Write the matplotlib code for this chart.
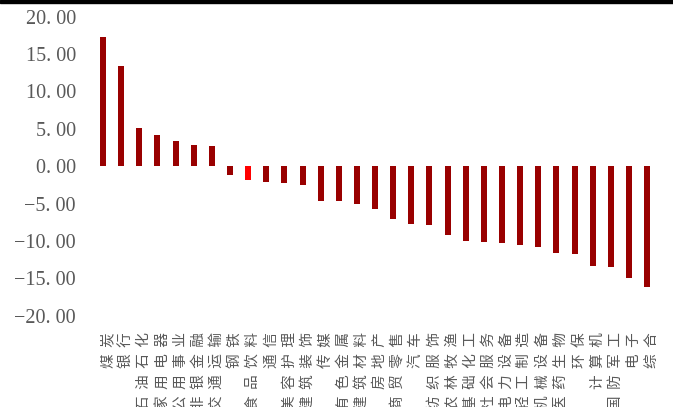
from matplotlib import pyplot as plt
from matplotlib.patches import Rectangle
import numpy as np

# Industry names (Shenwan level-1) and returns, %
industries = ['煤炭', '银行', '石油石化', '家用电器', '公用事业', '非银金融', '交通运输',
              '钢铁', '食品饮料', '通信', '美容护理', '建筑装饰', '传媒', '有色金属',
              '建筑材料', '房地产', '商贸零售', '汽车', '纺织服饰', '农林牧渔', '基础化工',
              '社会服务', '电力设备', '轻工制造', '机械设备', '医药生物', '环保', '计算机',
              '国防军工', '电子', '综合']
returns = [17.25, 13.35, 5.10, 4.18, 3.33, 2.84, 2.70,
           -1.14, -1.82, -2.11, -2.22, -2.47, -4.66, -4.68,
           -5.00, -5.68, -7.02, -7.69, -7.83, -9.17, -9.97,
           -10.10, -10.24, -10.50, -10.78, -11.58, -11.71, -13.32,
           -13.45, -14.97, -16.13]
highlight = '食品饮料'
yticks = [20, 15, 10, 5, 0, -5, -10, -15, -20]

dark_red = '#990000'
bright_red = '#ff0000'
gray = '#595959'

fig = plt.figure(figsize=(6.73, 4.07), dpi=100)
ax = fig.add_axes([0.1397, 0.2243, 0.8352, 0.7347])

x = np.arange(len(industries))
colors = [bright_red if n == highlight else dark_red for n in industries]
ax.bar(x, returns, width=0.33, color=colors)

ax.set_xlim(-0.5, len(industries) - 0.5)
ax.set_ylim(-20, 20)

# y tick labels look like "20. 00" in the original
ax.set_yticks(yticks)
ax.set_yticklabels([('%.2f' % v).replace('.', '. ').replace('-', '\u2212') for v in yticks],
                   fontfamily='Liberation Serif', fontsize=14.5, color=gray)

# stretched vertical labels, sitting a little right of the bars like the original
ax.set_xticks(x + 0.28)
ax.set_xticklabels(['  '.join(n) for n in industries], rotation=90,
                   fontfamily=['Noto Sans CJK SC', 'DejaVu Sans'], fontsize=10.5, color=gray)

ax.tick_params(axis='y', length=0, pad=13)
ax.tick_params(axis='x', length=0, pad=12)
for s in ax.spines.values():
    s.set_visible(False)

# black strip along the top edge
fig.add_artist(Rectangle((0, 1 - 3 / 407), 1, 3 / 407, transform=fig.transFigure,
                         color='black', zorder=10))

plt.savefig('out.png', dpi=100)
